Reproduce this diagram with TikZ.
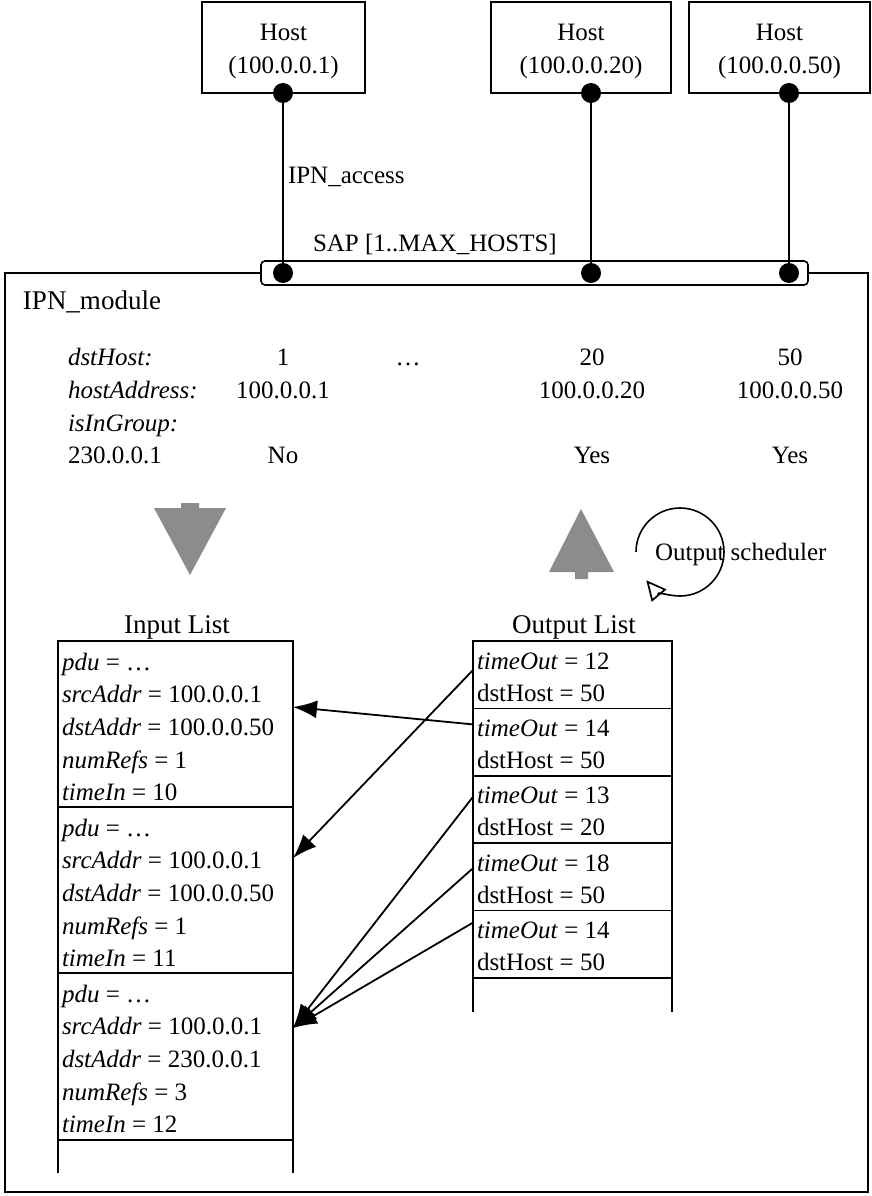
\documentclass[tikz,border=0pt]{standalone}
\usepackage{fontspec}
\setmainfont{Liberation Serif}
\usetikzlibrary{arrows.meta,calc}
\definecolor{arrowgray}{RGB}{140,140,140}
\newcommand\rowtxt[4]{\node[txt] (#1) at ([xshift=4pt,yshift=-#2pt]#3.north west) {#4};}
\begin{document}
\begin{tikzpicture}[x=1pt,y=1pt,
  every node/.style={font=\fontsize{25}{33}\selectfont, inner sep=0pt, outer sep=0pt},
  hostbox/.style={draw, line width=1.5pt, minimum height=91pt, align=center},
  cell/.style={draw, line width=1.5pt, anchor=north west},
  txt/.style={anchor=base west},
  ctxt/.style={anchor=base},
  big/.style={font=\fontsize{27}{33}\selectfont},
  dot/.style={circle, fill=black, minimum size=20pt},
  link/.style={line width=1.6pt},
  ptr/.style={line width=1.8pt, -{Latex[length=24pt,width=18pt]}},
  shade/.style={fill=arrowgray}
]
\useasboundingbox (0,0) rectangle (872,-1196);

% hosts
\node[hostbox, minimum width=163pt] (h1) at (283.5,-47.5) {\rule{0pt}{24pt}Host\\(100.0.0.1)};
\node[hostbox, minimum width=180pt] (h2) at (581,-47.5) {\rule{0pt}{24pt}Host\\(100.0.0.20)};
\node[hostbox, minimum width=181pt] (h3) at (779.5,-47.5) {\rule{0pt}{24pt}Host\\(100.0.0.50)};

% SAP bar
\node[draw, line width=1.6pt, rounded corners=4pt, minimum width=547pt, minimum height=24pt] (sap) at (534.5,-273) {};

% module outline
\coordinate (m1) at (5,-273);
\coordinate (m2) at (5,-1192);
\coordinate (m3) at (868,-1192);
\coordinate (m4) at (868,-273);
\draw[link] (sap.west) -- (m1) -- (m2) -- (m3) -- (m4) -- (sap.east);

% dots
\node[dot] (hd1) at (283,-93) {};
\node[dot] (hd2) at (591,-93) {};
\node[dot] (hd3) at (789,-93) {};
\node[dot] (sd1) at (283,-273) {};
\node[dot] (sd2) at (591,-273) {};
\node[dot] (sd3) at (789,-273) {};
\draw[link] (hd1.center) -- (sd1.center);
\draw[link] (hd2.center) -- (sd2.center);
\draw[link] (hd3.center) -- (sd3.center);

\node[txt] (acc) at (288,-183) {IPN\_access};
\node[txt] (saplbl) at (313,-251) {SAP [1..MAX\_HOSTS]};
\node[txt, big] (mod) at (23,-309) {IPN\_module};

% table
\node[txt] (t1) at (68,-365) {\itshape dstHost:};
\node[txt] (t2) at (68,-398) {\itshape hostAddress:};
\node[txt] (t3) at (68,-431) {\itshape isInGroup:};
\node[txt] (t4) at (68,-463) {230.0.0.1};
\node[ctxt] (v11) at (283,-365) {1};
\node[ctxt] (v12) at (408,-365) {…};
\node[ctxt] (v13) at (592,-365) {20};
\node[ctxt] (v14) at (790,-365) {50};
\node[ctxt] (v21) at (283,-398) {100.0.0.1};
\node[ctxt] (v23) at (592,-398) {100.0.0.20};
\node[ctxt] (v24) at (790,-398) {100.0.0.50};
\node[ctxt] (v41) at (283,-463) {No};
\node[ctxt] (v43) at (592,-463) {Yes};
\node[ctxt] (v44) at (790,-463) {Yes};

% gray block arrows
\path[shade] (181,-503) -- (199,-503) -- (199,-508) -- (226,-508) -- (190,-575) -- (154,-508) -- (181,-508) -- cycle;
\path[shade] (575,-579) -- (588,-579) -- (588,-572) -- (614,-572) -- (581,-509) -- (549,-572) -- (575,-572) -- cycle;

% output scheduler
\coordinate (sc) at (680,-552);
\draw[link, -{Triangle[open,length=20pt,width=19pt,line width=1.7pt]}] ([xshift=-44pt]sc) arc[start angle=180, end angle=-140, radius=44pt];
\node[txt] (sched) at (655,-560) {Output scheduler};

% list titles
\node[ctxt, big] (inl) at (177,-633) {Input List};
\node[ctxt, big] (outl) at (574,-633) {Output List};

% input list entries
\node[cell, minimum width=235pt, minimum height=166pt] (in1) at (58,-641) {};
\node[cell, minimum width=235pt, minimum height=166pt] (in2) at (in1.south west) {};
\node[cell, minimum width=235pt, minimum height=167pt] (in3) at (in2.south west) {};
\coordinate (inbl) at ([yshift=-33pt]in3.south west);
\coordinate (inbr) at ([yshift=-33pt]in3.south east);
\draw[link] (in3.south west) -- (inbl);
\draw[link] (in3.south east) -- (inbr);

\rowtxt{i1a}{29}{in1}{\textit{pdu} = …}
\rowtxt{i1b}{61.7}{in1}{\textit{srcAddr} = 100.0.0.1}
\rowtxt{i1c}{94.4}{in1}{\textit{dstAddr} = 100.0.0.50}
\rowtxt{i1d}{127}{in1}{\textit{numRefs} = 1}
\rowtxt{i1e}{159.7}{in1}{\textit{timeIn} = 10}
\rowtxt{i2a}{29}{in2}{\textit{pdu} = …}
\rowtxt{i2b}{61.7}{in2}{\textit{srcAddr} = 100.0.0.1}
\rowtxt{i2c}{94.4}{in2}{\textit{dstAddr} = 100.0.0.50}
\rowtxt{i2d}{127}{in2}{\textit{numRefs} = 1}
\rowtxt{i2e}{159.7}{in2}{\textit{timeIn} = 11}
\rowtxt{i3a}{29}{in3}{\textit{pdu} = …}
\rowtxt{i3b}{61.7}{in3}{\textit{srcAddr} = 100.0.0.1}
\rowtxt{i3c}{94.4}{in3}{\textit{dstAddr} = 230.0.0.1}
\rowtxt{i3d}{127}{in3}{\textit{numRefs} = 3}
\rowtxt{i3e}{159.7}{in3}{\textit{timeIn} = 12}

% output list entries
\node[cell, minimum width=199pt, minimum height=67.4pt] (o1) at (473,-641) {};
\node[cell, minimum width=199pt, minimum height=67.4pt] (o2) at (o1.south west) {};
\node[cell, minimum width=199pt, minimum height=67.4pt] (o3) at (o2.south west) {};
\node[cell, minimum width=199pt, minimum height=67.4pt] (o4) at (o3.south west) {};
\node[cell, minimum width=199pt, minimum height=67.4pt] (o5) at (o4.south west) {};
\coordinate (obl) at ([yshift=-34pt]o5.south west);
\coordinate (obr) at ([yshift=-34pt]o5.south east);
\draw[link] (o5.south west) -- (obl);
\draw[link] (o5.south east) -- (obr);

\rowtxt{o1a}{28}{o1}{\textit{timeOut} = 12}
\rowtxt{o1b}{60}{o1}{dstHost = 50}
\rowtxt{o2a}{28}{o2}{\textit{timeOut} = 14}
\rowtxt{o2b}{60}{o2}{dstHost = 50}
\rowtxt{o3a}{28}{o3}{\textit{timeOut} = 13}
\rowtxt{o3b}{60}{o3}{dstHost = 20}
\rowtxt{o4a}{28}{o4}{\textit{timeOut} = 18}
\rowtxt{o4b}{60}{o4}{dstHost = 50}
\rowtxt{o5a}{28}{o5}{\textit{timeOut} = 14}
\rowtxt{o5b}{60}{o5}{dstHost = 50}

% pointers
\draw[ptr] ([yshift=-16pt]o2.north west) -- ([yshift=-66pt]in1.north east);
\draw[ptr] ([yshift=-29pt]o1.north west) -- ([yshift=-51pt]in2.north east);
\draw[ptr] ([yshift=-21pt]o3.north west) -- ([yshift=-55pt]in3.north east);
\draw[ptr] ([yshift=-25pt]o4.north west) -- ([yshift=-55pt]in3.north east);
\draw[ptr] ([yshift=-12pt]o5.north west) -- ([yshift=-55pt]in3.north east);
\end{tikzpicture}
\end{document}
